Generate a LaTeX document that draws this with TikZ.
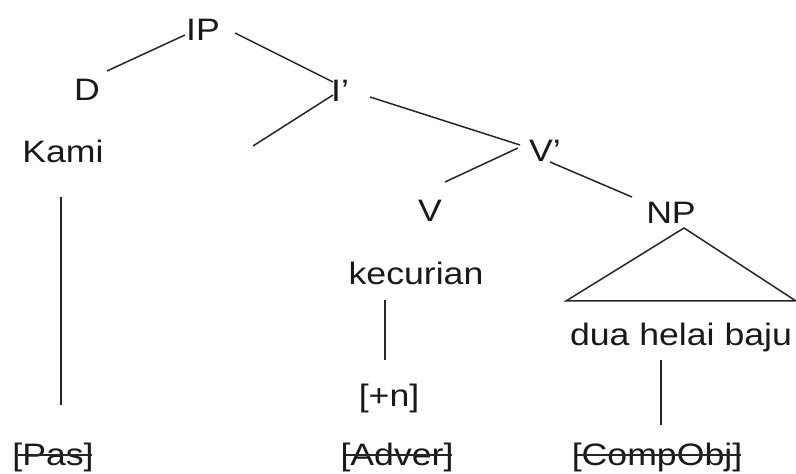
\documentclass[tikz,border=0pt]{standalone}
\usepackage{fontspec}
\setmainfont{Liberation Sans}[FakeStretch=1.15]
\usetikzlibrary{calc}
\begin{document}
\begin{tikzpicture}[x=0.5pt,y=-0.5pt,
  lbl/.style={inner sep=0pt, anchor=base, font=\fontsize{15.5pt}{18pt}\selectfont, text=black!90},
  edge/.style={line width=0.75pt, draw=black!85},
  strikeout/.style={line width=0.75pt, draw=black!85}]
\useasboundingbox (0,0) rectangle (796,474);
% nodes
\node[lbl] (IP) at (203,41) {IP};
\node[lbl] (D) at (87,101) {D};
\node[lbl] (Kami) at (63,163) {Kami};
\node[lbl] (Ibar) at (340,102) {I’};
\node[lbl] (Vbar) at (545,162) {V’};
\node[lbl] (V) at (430,222) {V};
\node[lbl] (NP) at (671,224) {NP};
\node[lbl] (kec) at (416,285) {kecurian};
\node[lbl] (dhb) at (681,346) {dua helai baju};
\node[lbl] (n) at (389,407) {[+n]};
\node[lbl] (Pas) at (53,466) {[Pas]};
\node[lbl] (Adver) at (397,466) {[Adver]};
\node[lbl] (Comp) at (657,466) {[CompObj]};
\coordinate (Iend) at (253,146);
% branches
\draw[edge] ([shift={(-18,-6)}]IP.base) -- ([shift={(20,-30)}]D.base);
\draw[edge] ([shift={(32,-8)}]IP.base) -- ([shift={(-7,-20)}]Ibar.base);
\draw[edge] ([shift={(-7,-7)}]Ibar.base) -- (Iend);
\draw[edge] ([shift={(30,-5)}]Ibar.base) -- ([shift={(-25,-17)}]Vbar.base);
\draw[edge] ([shift={(-27,-14)}]Vbar.base) -- ([shift={(15,-40)}]V.base);
\draw[edge] ([shift={(5,0)}]Vbar.base) -- ([shift={(-39,-27)}]NP.base);
% triangle
\draw[edge] ([shift={(-115,-45)}]dhb.base) -- ([shift={(13,4)}]NP.base) -- ([shift={(115,-45)}]dhb.base) -- cycle;
% vertical lines
\draw[edge] ([shift={(-2,34)}]Kami.base) -- ([shift={(8,-61)}]Pas.base);
\draw[edge] ([shift={(-31,15)}]kec.base) -- ([shift={(-4,-47)}]n.base);
\draw[edge] ([shift={(-20,14)}]dhb.base) -- ([shift={(4,-41)}]Comp.base);
% strike-outs
\draw[strikeout] ([shift={(6,-11)}]Pas.base west) -- ([shift={(-2,-11)}]Pas.base east);
\draw[strikeout] ([shift={(6,-11)}]Adver.base west) -- ([shift={(-2,-11)}]Adver.base east);
\draw[strikeout] ([shift={(6,-11)}]Comp.base west) -- ([shift={(-2,-11)}]Comp.base east);
\end{tikzpicture}
\end{document}
